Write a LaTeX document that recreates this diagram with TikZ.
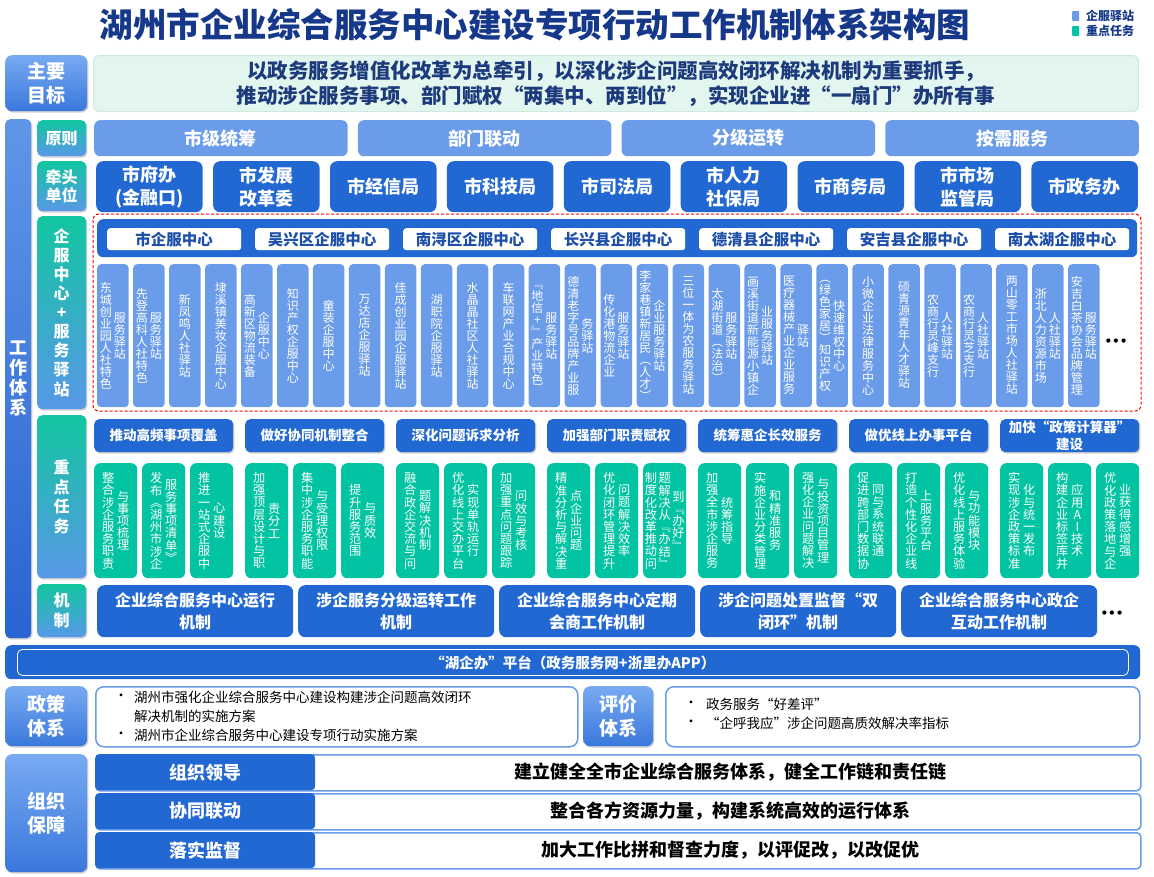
\documentclass[tikz,border=0pt]{standalone}
\usepackage{fontspec}
\setmainfont{Noto Sans CJK SC}
\newfontfamily\vfont[RawFeature={+vert}]{Noto Sans CJK SC}
\newfontfamily\dotfont{DejaVu Sans}
\usetikzlibrary{shadows}
\makeatletter
\newcommand\vcol[2][1.0]{\ensuremath{\vcenter{\baselineskip=#1em\lineskiplimit=-20pt\lineskip=0pt\@tfor\vc@c:=#2\do{\hbox to 1em{\hss\vc@c\hss}}}}}
\makeatother
\newcommand\vtwo[2]{\vcol{#1}\kern2pt\vcol{#2}}
\newcommand\vtwot[2]{\vcol{#1}\kern3pt\vcol{#2}}
\definecolor{dblue}{RGB}{34,104,210}
\definecolor{lblue}{RGB}{106,156,234}
\definecolor{tgreen}{RGB}{2,196,162}
\definecolor{navy}{RGB}{22,56,138}
\definecolor{goaltxt}{RGB}{28,58,124}
\definecolor{mint}{RGB}{226,245,238}
\definecolor{mintb}{RGB}{205,232,222}
\definecolor{ctxt}{RGB}{28,78,170}
\definecolor{lteal}{RGB}{18,198,160}
\definecolor{subbot}{RGB}{88,152,232}
\definecolor{labtop}{RGB}{120,170,242}
\definecolor{labbot}{RGB}{58,120,220}
\definecolor{bartop}{RGB}{96,150,232}
\definecolor{barbot}{RGB}{40,100,210}
\tikzset{
 sh/.style={drop shadow={shadow xshift=1.2pt,shadow yshift=-1.5pt,opacity=0.3,fill=black!60}},
 lab/.style={rounded corners=7pt, top color=labtop, bottom color=labbot, text=white, font=\bfseries\fontsize{19}{24}\selectfont, align=center, inner sep=0pt, anchor=north west, sh},
 sublab/.style={rounded corners=5pt, top color=lteal, bottom color=subbot, text=white, font=\bfseries\fontsize{16}{18}\selectfont, align=center, inner sep=0pt, anchor=north west, minimum width=49pt, sh},
 pbox/.style={rounded corners=6pt, fill=lblue, text=white, font=\bfseries\fontsize{18}{20}\selectfont, inner sep=0pt, anchor=north west, minimum width=253.5pt, minimum height=36pt},
 ubox/.style={rounded corners=7pt, fill=dblue, text=white, font=\bfseries\fontsize{18}{23}\selectfont, align=center, inner sep=0pt, anchor=north west, minimum width=106.5pt, minimum height=51pt},
 cbox/.style={rounded corners=3pt, fill=white, text=ctxt, font=\bfseries\fontsize{15.5}{17}\selectfont, inner sep=0pt, anchor=north west, minimum width=134pt, minimum height=22pt},
 stn/.style={rounded corners=4pt, fill=lblue, text=white, font=\vfont\fontsize{12}{12}\selectfont, inner sep=0pt, anchor=north west, minimum width=31.5pt, minimum height=143pt},
 thead/.style={rounded corners=5pt, fill=dblue, text=white, font=\bfseries\fontsize{13.5}{17}\selectfont, align=center, inner sep=0pt, anchor=north west, minimum width=139pt, minimum height=33pt, sh},
 task/.style={rounded corners=6pt, fill=tgreen, text=white, font=\vfont\fontsize{12.2}{12.2}\selectfont, inner sep=0pt, anchor=north west, minimum width=43pt, minimum height=115pt},
 mbox/.style={rounded corners=7pt, fill=dblue, text=white, font=\bfseries\fontsize{16}{22}\selectfont, align=center, inner sep=0pt, anchor=north west, minimum width=196pt, minimum height=52pt},
 wbox/.style={rounded corners=8pt, fill=white, draw=lblue, line width=1.5pt, inner sep=0pt, anchor=north west},
 btxt/.style={font=\fontsize{13.5}{19}\selectfont, align=left, inner sep=0pt, text=black},
 orgl/.style={rounded corners=4pt, fill=dblue, text=white, font=\bfseries\fontsize{18}{20}\selectfont, inner sep=0pt, anchor=north west, minimum width=220pt, minimum height=36pt},
 orgr/.style={rounded corners=4pt, fill=white, draw=lblue, line width=1.5pt, inner sep=0pt, anchor=north west, minimum width=1045pt, minimum height=36pt},
 dots/.style={font=\dotfont\bfseries\fontsize{12}{12}\selectfont, inner sep=0pt, text=black}
}
\begin{document}
\begin{tikzpicture}[x=1pt,y=-1pt]
\path[use as bounding box, fill=white] (0,0) rectangle (1154,876);
% title and legend
\node[font=\bfseries\fontsize{33.5}{36}\selectfont, text=navy, inner sep=0pt] (title) at (535,25) {湖州市企业综合服务中心建设专项行动工作机制体系架构图};
\node[fill=lblue, rounded corners=1pt, minimum width=7pt, minimum height=10pt, inner sep=0pt] (lg1) at (1075.5,16) {};
\node[anchor=west, font=\bfseries\fontsize{12}{12}\selectfont, text=navy, inner sep=0pt] (lg1t) at (1086,16) {企服驿站};
\node[fill=tgreen, rounded corners=1pt, minimum width=7pt, minimum height=10pt, inner sep=0pt] (lg2) at (1075.5,31) {};
\node[anchor=west, font=\bfseries\fontsize{12}{12}\selectfont, text=navy, inner sep=0pt] (lg2t) at (1086,31) {重点任务};
% goal
\node[lab, minimum width=82pt, minimum height=56pt] (goal) at (5,55) {主要\\目标};
\node[rounded corners=6pt, fill=mint, draw=mintb, line width=1pt, anchor=north west, minimum width=1045pt, minimum height=56pt, inner sep=0pt, text=goaltxt, font=\bfseries\fontsize{20.5}{25}\selectfont, align=center] (goaltext) at (93,55) {以政务服务增值化改革为总牵引，以深化涉企问题高效闭环解决机制为重要抓手，\\推动涉企服务事项、部门赋权“两集中、两到位”，实现企业进“一扇门”办所有事};
% work system bar
\node[rounded corners=5pt, top color=bartop, bottom color=barbot, anchor=north west, minimum width=26pt, minimum height=519pt, inner sep=0pt, text=white, font=\vfont\bfseries\fontsize{18}{18}\selectfont, sh] (work) at (5,119) {\vcol[1.12]{工作体系}};
% sub labels
\node[sublab, minimum height=36pt] (yz) at (37,120) {原则};
\node[sublab, minimum height=50pt] (qt) at (37,161) {牵头\\单位};
\node[sublab, minimum height=193pt, font=\vfont\bfseries\fontsize{16}{16}\selectfont] (qf) at (37,216) {\vcol[1.19]{企服中心+服务驿站}};
\node[sublab, minimum height=163pt, font=\vfont\bfseries\fontsize{16}{16}\selectfont] (zd) at (37,415) {\vcol[1.22]{重点任务}};
\node[sublab, minimum height=53pt, font=\vfont\bfseries\fontsize{16}{16}\selectfont] (jz) at (37,584) {\vcol[1.25]{机制}};
% principles
\foreach \t [count=\i from 0] in {市级统筹, 部门联动, 分级运转, 按需服务}{
  \pgfmathsetmacro\xx{94+\i*263.7}
  \node[pbox] (p\i) at (\xx,120) {\t};
}
% leading units
\foreach \t [count=\i from 0] in {{市府办\\(金融口)}, {市发展\\改革委}, {市经信局}, {市科技局}, {市司法局}, {市人力\\社保局}, {市商务局}, {市市场\\监管局}, {市政务办}}{
  \pgfmathsetmacro\xx{96+\i*116.9}
  \node[ubox] (u\i) at (\xx,161) {\t};
}
% service centres
\draw[red, line width=1pt, dash pattern=on 3pt off 2pt, rounded corners=6pt] (93,214) rectangle (1141,411);
\node[rounded corners=6pt, fill=dblue, anchor=north west, minimum width=1040pt, minimum height=38pt, inner sep=0pt] (cbar) at (97,219) {};
\foreach \t [count=\i from 0] in {市企服中心, 吴兴区企服中心, 南浔区企服中心, 长兴县企服中心, 德清县企服中心, 安吉县企服中心, 南太湖企服中心}{
  \pgfmathsetmacro\xx{107+\i*148}
  \node[cbox] (c\i) at (\xx,228) {\t};
}
% stations
\foreach \t [count=\i from 0] in {
 {\vtwo{东城创业园人社特色}{服务驿站}},
 {\vtwo{先登高科人社特色}{服务驿站}},
 {\vcol{新凤鸣人社驿站}},
 {\vcol{埭溪镇美妆企服中心}},
 {\vtwo{高新区物流装备}{企服中心}},
 {\vcol{知识产权企服中心}},
 {\vcol{童装企服中心}},
 {\vcol{万达店企服驿站}},
 {\vcol{佳成创业园企服驿站}},
 {\vcol{湖职院企服驿站}},
 {\vcol{水晶晶社区人社驿站}},
 {\vcol{车联网产业合规中心}},
 {\vtwo{“地信+”产业特色}{服务驿站}},
 {\vtwo{德清老字号品牌产业服}{务驿站}},
 {\vtwo{传化港物流企业}{服务驿站}},
 {\vtwo{李家巷镇新居民（人才）}{企业服务驿站}},
 {\vcol{三位一体为农服务驿站}},
 {\vtwo{太湖街道（法治）}{服务驿站}},
 {\vtwo{画溪街道新能源小镇企}{业服务驿站}},
 {\vtwo{医疗器械产业企业服务}{驿站}},
 {\vtwo{（绿色家居）知识产权}{快速维权中心}},
 {\vcol{小微企业法律服务中心}},
 {\vcol{硕青源青年人才驿站}},
 {\vtwo{农商行灵峰支行}{人社驿站}},
 {\vtwo{农商行灵芝支行}{人社驿站}},
 {\vcol{两山零工市场人社驿站}},
 {\vtwo{浙北人力资源市场}{人社驿站}},
 {\vtwo{安吉白茶协会品牌管理}{服务驿站}}}{
  \pgfmathsetmacro\xx{97+\i*35.96}
  \node[stn] (s\i) at (\xx,264) {\t};
}
\node[dots] (sdots) at (1116,342) {•••};
% key tasks
\foreach \t [count=\i from 0] in {推动高频事项覆盖, 做好协同机制整合, 深化问题诉求分析, 加强部门职责赋权, 统筹惠企长效服务, 做优线上办事平台, {加快“政策计算器”\\建设}}{
  \pgfmathsetmacro\xx{94+\i*151}
  \node[thead] (h\i) at (\xx,419) {\t};
}
\foreach \t [count=\i from 0] in {
 {\vtwot{整合涉企服务职责}{与事项梳理}},
 {\vtwot{发布《湖州市涉企}{服务事项清单》}},
 {\vtwot{推进一站式企服中}{心建设}},
 {\vtwot{加强顶层设计与职}{责分工}},
 {\vtwot{集中涉企服务职能}{与受理权限}},
 {\vtwot{提升服务范围}{与质效}},
 {\vtwot{融合政企交流与问}{题解决机制}},
 {\vtwot{优化线上交办平台}{实现单轨运行}},
 {\vtwot{加强重点问题跟踪}{问效与考核}},
 {\vtwot{精准分析与解决重}{点企业问题}},
 {\vtwot{优化闭环管理提升}{问题解决效率}},
 {\vcol{制度化改革推动问}\kern1.5pt\vcol{题解决从“办结”}\kern1.5pt\vcol{到“办好”}},
 {\vtwot{加强全市涉企服务}{统筹指导}},
 {\vtwot{实施企业分类管理}{和精准服务}},
 {\vtwot{强化企业问题解决}{与投资项目管理}},
 {\vtwot{促进跨部门数据协}{同与系统联通}},
 {\vtwot{打造个性化企业线}{上服务平台}},
 {\vtwot{优化线上服务体验}{与功能模块}},
 {\vtwot{实现涉企政策标准}{化与统一发布}},
 {\vtwot{构建企业标签库并}{应用AI技术}},
 {\vtwot{优化政策落地与企}{业获得感增强}}}{
  \pgfmathtruncatemacro\gg{floor(\i/3)}
  \pgfmathtruncatemacro\jj{mod(\i,3)}
  \pgfmathsetmacro\xx{94+\gg*151+\jj*48}
  \node[task] (t\i) at (\xx,463) {\t};
}
% mechanisms
\foreach \t [count=\i from 0] in {{企业综合服务中心运行\\机制}, {涉企服务分级运转工作\\机制}, {企业综合服务中心定期\\会商工作机制}, {涉企问题处置监督“双\\闭环”机制}, {企业综合服务中心政企\\互动工作机制}}{
  \pgfmathsetmacro\xx{97+\i*201}
  \node[mbox] (m\i) at (\xx,585) {\t};
}
\node[dots] (mdots) at (1112,614) {•••};
% platform
\node[rounded corners=6pt, fill=dblue, anchor=north west, minimum width=1135pt, minimum height=34pt, inner sep=0pt] (platout) at (5,645) {};
\node[rounded corners=5pt, draw=white, line width=0.8pt, anchor=north west, minimum width=1111pt, minimum height=26pt, inner sep=0pt, text=white, font=\bfseries\fontsize{14.5}{16}\selectfont] (plat) at (17,649) {“湖企办”平台（政务服务网+浙里办APP）};
% policy & evaluation
\node[lab, minimum width=82pt, minimum height=60pt] (pol) at (5,686) {政策\\体系};
\node[wbox, minimum width=482pt, minimum height=60pt] (polbox) at (95,686) {};
\node[btxt] (pb1) at (121,697) {•};
\node[btxt, anchor=west] (pt1) at (134,706.5) {湖州市强化企业综合服务中心建设构建涉企问题高效闭环\\解决机制的实施方案};
\node[btxt] (pb2) at (121,735) {•};
\node[btxt, anchor=west] (pt2) at (134,735) {湖州市企业综合服务中心建设专项行动实施方案};
\node[lab, minimum width=70pt, minimum height=60pt] (evl) at (583,686) {评价\\体系};
\node[wbox, minimum width=474pt, minimum height=60pt] (evbox) at (665,686) {};
\node[btxt] (eb1) at (691,704) {•};
\node[btxt, anchor=west] (et1) at (706,704) {政务服务“好差评”};
\node[btxt] (eb2) at (691,723) {•};
\node[btxt, anchor=west] (et2) at (706,723) {“企呼我应”涉企问题高质效解决率指标};
% organisation
\node[lab, minimum width=82pt, minimum height=118pt] (org) at (5,754) {组织\\保障};
\foreach \a/\b [count=\i from 0] in {组织领导/建立健全全市企业综合服务体系，健全工作链和责任链, 协同联动/整合各方资源力量，构建系统高效的运行体系, 落实监督/加大工作比拼和督查力度，以评促改，以改促优}{
  \pgfmathsetmacro\yy{754+\i*39}
  \pgfmathsetmacro\yc{772+\i*39}
  \node[orgr] (or\i) at (95,\yy) {};
  \node[orgl] (ol\i) at (95,\yy) {\a};
  \node[font=\bfseries\fontsize{18}{20}\selectfont, text=black, inner sep=0pt] (ot\i) at (730,\yc) {\b};
}
\end{tikzpicture}
\end{document}
